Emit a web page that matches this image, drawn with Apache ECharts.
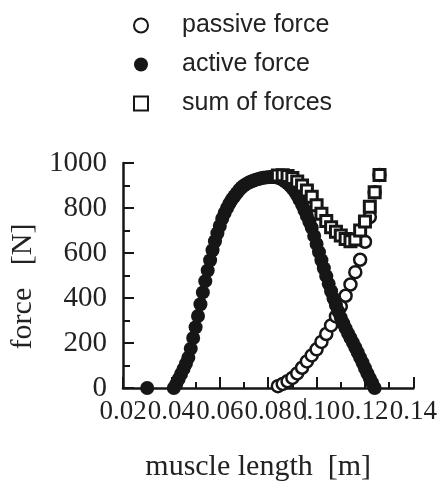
<!DOCTYPE html>
<html>
<head>
<meta charset="utf-8">
<script src="https://cdn.jsdelivr.net/npm/echarts@6/dist/echarts.min.js"></script>
<style>
  html, body { margin: 0; padding: 0; background: #fff; }
  #chart { width: 440px; height: 483px; }
</style>
</head>
<body>
<div id="chart"></div>
<script>
// Muscle force-length relation: passive, active and total force.
const seriesNames = ['passive force', 'active force', 'sum of forces'];

// Active (contractile) force, sampled every millimetre
const activeLength = [
  0.030, 0.041, 0.042, 0.043, 0.044, 0.045, 0.046, 0.047, 0.048, 0.049,
  0.050, 0.051, 0.052, 0.053, 0.054, 0.055, 0.056, 0.057, 0.058, 0.059,
  0.060, 0.061, 0.062, 0.063, 0.064, 0.065, 0.066, 0.067, 0.068, 0.069,
  0.070, 0.071, 0.072, 0.073, 0.074, 0.075, 0.076, 0.077, 0.078, 0.079,
  0.080, 0.081, 0.082, 0.083, 0.084, 0.085, 0.086, 0.087, 0.088, 0.089,
  0.090, 0.091, 0.092, 0.093, 0.094, 0.095, 0.096, 0.097, 0.098, 0.099,
  0.100, 0.101, 0.102, 0.103, 0.104, 0.105, 0.106, 0.107, 0.108, 0.109,
  0.110, 0.111, 0.112, 0.113, 0.114, 0.115, 0.116, 0.117, 0.118, 0.119,
  0.120, 0.121, 0.122, 0.123, 0.124
];
const activeForce = [
  0, 0, 18, 40, 62, 85, 108, 135, 175, 222,
  270, 320, 372, 425, 475, 522, 568, 612, 652, 688,
  720, 752, 778, 800, 820, 838, 852, 866, 880, 891,
  900, 907, 913, 918, 922, 926, 929, 932, 934, 936,
  937, 938, 938, 937, 935, 931, 925, 918, 910, 900,
  888, 873, 856, 836, 814, 790, 765, 739, 712, 676,
  640, 604, 568, 532, 497, 463, 430, 398, 368, 340,
  313, 288, 265, 243, 222, 201, 180, 158, 135, 112,
  88, 65, 43, 22, 0
];

// Passive (elastic) force and the total, sampled every 2 mm
const passiveLength = [
  0.084, 0.086, 0.088, 0.090, 0.092, 0.094, 0.096, 0.098, 0.100, 0.102,
  0.104, 0.106, 0.108, 0.110, 0.112, 0.114, 0.116, 0.118, 0.120, 0.122,
  0.124, 0.126
];
const passiveForce = [
  8, 18, 30, 45, 65, 90, 118, 145, 172, 205,
  240, 278, 318, 362, 410, 460, 515, 570, 650, 760,
  870, 947
];
const sumForce = [
  944, 946, 942, 933, 918, 900, 878, 850, 812, 775,
  742, 715, 695, 678, 662, 652, 660, 700, 740, 806,
  870, 947
];

const xTickLabels = ['0.02', '0.04', '0.06', '0.08', '0.10', '0.12', '0.14'];
const yTickLabels = ['0', '200', '400', '600', '800', '1000'];

const pairs = (xs, ys) => xs.map((x, i) => [x, ys[i]]);

const ink = '#161616';
const textInk = '#222';
const serif = '"Liberation Serif", "Times New Roman", serif';
const sans = '"Liberation Sans", Arial, sans-serif';

const chart = echarts.init(document.getElementById('chart'), null, { renderer: 'canvas' });

chart.setOption({
  animation: false,
  backgroundColor: '#fff',
  grid: { left: 117, right: 25, top: 163, bottom: 95, containLabel: false },
  legend: {
    orient: 'vertical',
    left: 128,
    top: 8,
    padding: 5,
    itemWidth: 14,
    itemHeight: 14,
    itemGap: 14,
    selectedMode: false,
    textStyle: { fontFamily: sans, fontSize: 25, color: textInk, padding: [0, 0, 0, 29] },
    data: [
      { name: seriesNames[0] },
      { name: seriesNames[1] },
      { name: seriesNames[2], icon: 'path://M0,0H10V10H0Z' }
    ]
  },
  xAxis: {
    type: 'value',
    min: 0.02,
    max: 0.14,
    interval: 0.02,
    name: 'muscle length  [m]',
    nameLocation: 'middle',
    nameGap: 64,
    nameTextStyle: { fontFamily: serif, fontSize: 30, color: textInk, padding: [0, 20, 0, 0] },
    axisLine: { lineStyle: { color: ink, width: 2.5 } },
    axisTick: { inside: true, length: 11, lineStyle: { color: ink, width: 2 } },
    minorTick: { show: true, splitNumber: 2, length: 6, lineStyle: { color: ink, width: 2 } },
    splitLine: { show: false },
    axisLabel: {
      margin: 10,
      showMinLabel: true,
      showMaxLabel: true,
      hideOverlap: false,
      fontFamily: serif,
      fontSize: 27,
      color: textInk,
      formatter: (v) => xTickLabels[Math.round((v - 0.02) / 0.02)]
    }
  },
  yAxis: {
    type: 'value',
    min: 0,
    max: 1000,
    interval: 200,
    name: 'force   [N]',
    nameLocation: 'middle',
    nameRotate: 90,
    nameGap: 85,
    nameTextStyle: { fontFamily: serif, fontSize: 30, color: textInk, padding: [0, 22, 0, 0] },
    axisLine: { show: true, lineStyle: { color: ink, width: 2.5 } },
    axisTick: { show: true, inside: true, length: 11, lineStyle: { color: ink, width: 2 } },
    minorTick: { show: true, splitNumber: 2, length: 7, lineStyle: { color: ink, width: 2 } },
    splitLine: { show: false },
    axisLabel: {
      margin: 16,
      showMinLabel: true,
      showMaxLabel: true,
      fontFamily: serif,
      fontSize: 29,
      color: textInk,
      formatter: (v) => yTickLabels[Math.round(v / 200)]
    }
  },
  series: [
    {
      name: seriesNames[0],
      type: 'scatter',
      symbol: 'circle',
      symbolSize: 12,
      itemStyle: { color: '#fff', borderColor: ink, borderWidth: 2.5, opacity: 1 },
      emphasis: { disabled: true },
      data: pairs(passiveLength, passiveForce)
    },
    {
      name: seriesNames[1],
      type: 'scatter',
      symbol: 'circle',
      symbolSize: 14,
      itemStyle: { color: ink, opacity: 1 },
      emphasis: { disabled: true },
      data: pairs(activeLength, activeForce)
    },
    {
      name: seriesNames[2],
      type: 'scatter',
      symbol: 'rect',
      symbolSize: 11,
      itemStyle: { color: '#fff', borderColor: ink, borderWidth: 3, opacity: 1 },
      emphasis: { disabled: true },
      data: pairs(passiveLength, sumForce)
    }
  ],
  graphic: [
    {
      type: 'line',
      z: 100,
      shape: { x1: 305, y1: 398, x2: 305, y2: 420 },
      style: { stroke: textInk, lineWidth: 1.5 }
    }
  ]
});
</script>
</body>
</html>
